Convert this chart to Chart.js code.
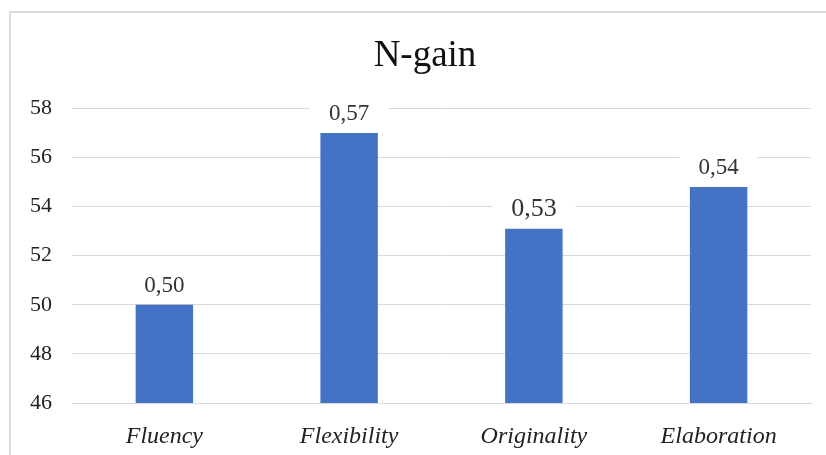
<!DOCTYPE html>
<html>
<head>
<meta charset="utf-8">
<script src="https://cdn.jsdelivr.net/npm/chart.js@4"></script>
<style>
  html, body { margin: 0; padding: 0; background: #fff; }
  #wrap { position: relative; width: 826px; height: 455px; }
  #frame { position: absolute; left: 9px; top: 11px; right: -5px; bottom: -5px;
           border-left: 2px solid #dcdcdc; border-top: 2px solid #dcdcdc; }
  canvas { position: absolute; left: 0; top: 0; }
</style>
</head>
<body>
<div id="wrap">
  <div id="frame"></div>
  <canvas id="ngain" width="826" height="455"></canvas>
</div>
<script>
// dados do gráfico
const categorias = ['Fluency', 'Flexibility', 'Originality', 'Elaboration'];
const valores = [50.0, 57.0, 53.1, 54.8];
const rotulos = ['0,50', '0,57', '0,53', '0,54'];
const yTicks = [46, 48, 50, 52, 54, 56, 58];

const serif = "'Liberation Serif', 'Times New Roman', serif";

// desenha os rótulos de N-gain acima das barras
const rotuloPlugin = {
  id: 'rotulos',
  afterLayout(chart) {
    // desloca o título um pouco para a direita, como no original
    const t = chart.titleBlock;
    t.left += 39;
    t.width = t.right - t.left;
  },
  afterDatasetsDraw(chart, args, opts) {
    const ctx = chart.ctx;
    const meta = chart.getDatasetMeta(0);
    ctx.save();
    meta.data.forEach((bar, i) => {
      const size = opts.sizes[i];
      ctx.font = size + 'px ' + serif;
      const w = ctx.measureText(rotulos[i]).width;
      const base = bar.y - 13;
      ctx.fillStyle = '#fff';
      ctx.fillRect(bar.x - w / 2 - 19, base - size * 0.85, w + 38, size * 1.05);
      ctx.fillStyle = '#333';
      ctx.textAlign = 'center';
      ctx.textBaseline = 'alphabetic';
      ctx.fillText(rotulos[i], bar.x, base);
    });
    ctx.restore();
  }
};

const ctx = document.getElementById('ngain').getContext('2d');

const grafico = new Chart(ctx, {
  type: 'bar',
  data: {
    labels: categorias,
    datasets: [{
      label: 'N-gain',
      data: valores,
      backgroundColor: '#4472C4',
      borderWidth: 0,
      categoryPercentage: 1,
      barPercentage: 0.311
    }]
  },
  plugins: [rotuloPlugin],
  options: {
    responsive: false,
    animation: false,
    events: [],
    layout: { padding: { left: 0, right: 15, top: 12, bottom: 0 } },
    plugins: {
      legend: { display: false },
      tooltip: { enabled: false },
      title: {
        display: true,
        text: 'N-gain',
        color: '#111',
        font: { family: serif, size: 37, weight: 'normal', lineHeight: 1.2 },
        padding: { top: 22, bottom: 30 }
      },
      rotulos: { sizes: [23, 23, 26, 23] }
    },
    scales: {
      x: {
        afterFit: (scale) => { scale.height = 52; },
        grid: { display: false, drawTicks: false },
        border: { display: true, color: '#d9d9d9', width: 1 },
        ticks: {
          color: '#222',
          padding: 19,
          font: { family: serif, size: 24, style: 'italic' }
        }
      },
      y: {
        min: 46,
        max: 58,
        afterFit: (scale) => { scale.width = 72; },
        afterBuildTicks: (scale) => { scale.ticks = yTicks.map(v => ({ value: v })); },
        grid: { color: '#d9d9d9', lineWidth: 1, drawTicks: false },
        border: { display: false },
        ticks: {
          color: '#222',
          padding: 20,
          font: { family: serif, size: 22 }
        }
      }
    }
  }
});
</script>
</body>
</html>
